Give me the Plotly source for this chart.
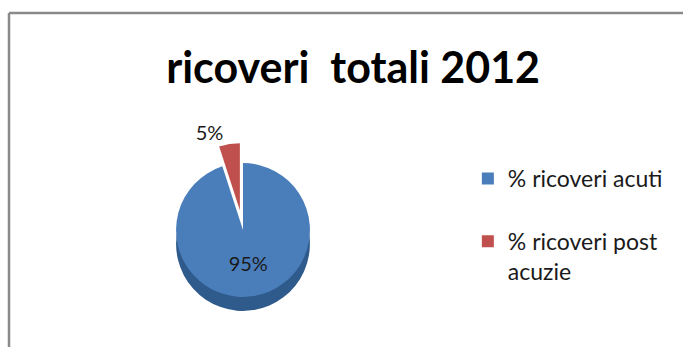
import plotly.graph_objects as go

labels = ["% ricoveri acuti<br>\u00a0", "% ricoveri post<br>acuzie"]
values = [95, 5]
text_labels = ["95%", "5%"]
colors_top = ["#4A7EBB", "#C0504D"]
colors_side = ["#2F5A8C", "rgba(0,0,0,0)"]
pulls = [0, 0.3]

W, H = 683, 347

def dom(cx, cy, size):
    return dict(x=[(cx - size / 2) / W, (cx + size / 2) / W],
                y=[1 - (cy + size / 2) / H, 1 - (cy - size / 2) / H])

fig = go.Figure()
# side (thickness) layer
fig.add_trace(go.Pie(
    labels=labels, values=values, sort=False, direction="clockwise", rotation=0,
    pull=pulls, marker=dict(colors=colors_side, line=dict(width=0)),
    textinfo="none", showlegend=False, hoverinfo="skip",
    domain=dom(243, 244, 174),
))
# top layer
fig.add_trace(go.Pie(
    labels=labels, values=values, sort=False, direction="clockwise", rotation=0,
    pull=pulls, marker=dict(colors=colors_top, line=dict(width=0)),
    text=text_labels, textinfo="text", textposition=["inside", "outside"],
    insidetextfont=dict(family="Lato", size=20, color="#1a1a1a"),
    outsidetextfont=dict(family="Lato", size=20, color="#1a1a1a"),
    domain=dom(243, 230, 174),
))

fig.update_layout(
    width=W, height=H,
    margin=dict(l=0, r=0, t=0, b=0),
    paper_bgcolor="white",
    title=dict(text="<b>ricoveri\u00a0 totali 2012</b>", x=0.517, xanchor="center",
               y=1 - 68 / H, yanchor="middle",
               font=dict(family="Lato", size=43, color="black")),
    legend=dict(x=0.685, y=1 - 157 / H, xanchor="left", yanchor="top",
                valign="top", font=dict(family="Lato", size=23, color="#1a1a1a"),
                bgcolor="rgba(0,0,0,0)", tracegroupgap=0, itemwidth=30),
    shapes=[
        dict(type="line", xref="paper", yref="paper", x0=9 / W, x1=1, y0=1 - 13 / H, y1=1 - 13 / H,
             line=dict(color="#8a8a8a", width=2.5)),
        dict(type="line", xref="paper", yref="paper", x0=9 / W, x1=9 / W, y0=0, y1=1 - 13 / H,
             line=dict(color="#8a8a8a", width=2.5)),
    ],
)

fig.write_html("out.html")
